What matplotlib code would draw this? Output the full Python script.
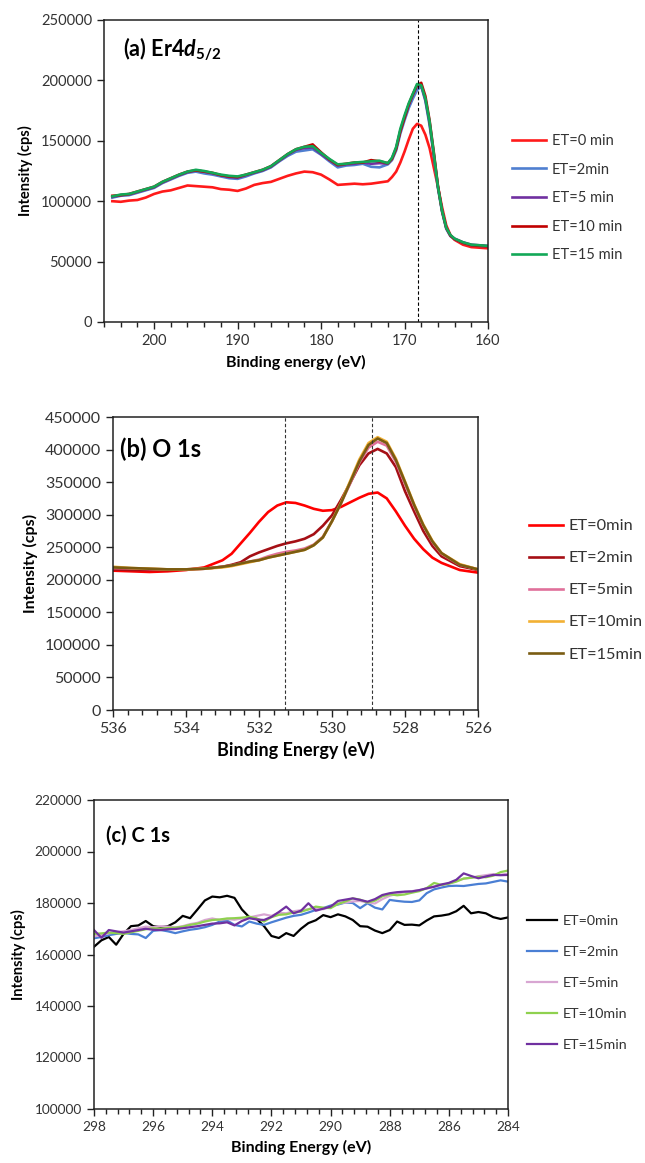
import matplotlib
matplotlib.use("Agg")
import matplotlib.pyplot as plt
from matplotlib.ticker import MultipleLocator

plt.rcParams["font.family"] = ["Lato", "DejaVu Sans"]
plt.rcParams["mathtext.fontset"] = "custom"
plt.rcParams["mathtext.rm"] = "Lato:bold"
plt.rcParams["mathtext.it"] = "Lato:bold:italic"
plt.rcParams["mathtext.bf"] = "Lato:bold"

# ---------------- (a) Er 4d5/2 ----------------
er_energy = [205, 204, 203, 202, 201, 200, 199, 198, 197, 196, 195, 194, 193, 192,
             191, 190, 189, 188, 187, 186, 185, 184, 183, 182, 181, 180, 179, 178,
             177, 176, 175, 174, 173, 172, 171.5, 171, 170.5, 170, 169.5, 169,
             168.5, 168, 167.5, 167, 166.5, 166, 165.5, 165, 164.5, 164, 163, 162,
             161, 160]
er_labels = ["ET=0 min", "ET=2min", "ET=5 min", "ET=10 min", "ET=15 min"]
er_colors = ["#FF1A1A", "#4F7FD0", "#7030A0", "#C00000", "#12A857"]
er_et0 = [100.0, 99.5, 100.5, 101, 103, 106, 108, 109, 111, 113, 112.5, 112, 111.5, 110,
          109.5, 108.5, 110.5, 113.5, 115, 116, 118.5, 121, 123, 124.5, 124, 122, 118, 113.5,
          114, 114.5, 114, 114.5, 115.5, 116.5, 120, 124.5, 132, 141, 151, 160,
          164, 162.5, 155, 144, 128, 112, 95, 80, 72, 68, 64, 62,
          61.5, 61]
er_et2 = [103, 104.5, 105, 107, 109, 111, 115, 118, 121, 123.5, 124.5, 123, 122, 120.5,
          119, 118.5, 120.5, 123, 125, 128, 133, 137.5, 141, 142, 143, 138.5, 133, 128,
          129.5, 130, 131, 128.5, 128, 130.5, 134, 142, 156, 167, 177, 185,
          192, 195, 183, 163, 138, 111, 91, 77, 71, 68.5, 65.5, 63.5,
          63, 62.5]
er_et5 = [103.5, 105, 105.5, 107.5, 109.5, 111.5, 115.5, 118.5, 121.5, 124, 125.5, 124.5, 123, 121.5,
          120, 119.5, 121.5, 123.5, 125.5, 128.5, 133.5, 138.5, 142.5, 144, 144.5, 139, 134, 129.5,
          130.5, 131, 132, 131, 131.5, 131, 135.5, 144, 158.5, 169.5, 179.5, 188,
          195.5, 196, 184, 165, 139, 112, 92, 78, 71.5, 69, 66, 64,
          63.5, 63]
er_et10 = [104.5, 105, 106, 108, 110, 112, 116, 119, 122, 124.5, 125.5, 124.5, 123.5, 121.5,
           120.5, 120, 122, 124, 126, 129, 134, 139, 143, 145, 147, 140.5, 134.5, 130,
           131, 132, 132, 134, 133, 131.5, 135, 143.5, 158, 169, 180, 188.5,
           196, 198, 187, 167, 141, 113, 92, 78, 71.5, 68.5, 65.5, 63.5,
           63, 62.5]
er_et15 = [104, 105.5, 106, 108, 110, 112, 116, 119, 122, 124.5, 126, 125, 123.5, 122,
           121, 120.5, 122, 124, 126, 129, 134, 139, 143, 145, 145.5, 140, 135, 130.5,
           131, 132, 132.5, 133, 133.5, 131.5, 136, 145, 160, 171, 181, 189,
           197, 196, 185, 166, 140, 112, 92, 78, 72, 69, 66, 64,
           63.5, 63]
er_series = [er_et0, er_et2, er_et5, er_et10, er_et15]
er_peak = 168.4

# ---------------- (b) O 1s ----------------
o_energy = [536, 535.5, 535, 534.5, 534, 533.5, 533, 532.75, 532.5, 532.25, 532, 531.75,
            531.5, 531.25, 531, 530.75, 530.5, 530.25, 530, 529.75, 529.5, 529.25, 529,
            528.75, 528.5, 528.25, 528, 527.75, 527.5, 527.25, 527, 526.5, 526]
o_labels = ["ET=0min", "ET=2min", "ET=5min", "ET=10min", "ET=15min"]
o_colors = ["#FF0000", "#A50F15", "#E0709A", "#F2B134", "#7A5C12"]
o_et0 = [214, 213, 212, 213, 215, 219, 230, 240, 256, 272, 289, 304,
         314, 319, 318, 314, 309, 306, 307, 312, 319, 326, 332,
         334, 325, 305, 283, 263, 247, 234, 226, 215, 211]
o_et2 = [216, 215, 215, 215, 216, 217, 220, 223, 227, 236, 242, 247,
         252, 256, 259, 263, 270, 283, 299, 323, 349, 376, 394,
         401, 394, 373, 336, 305, 275, 252, 236, 221, 215]
o_et5 = [218, 217.5, 216.5, 216, 216, 217, 220, 222, 225, 228, 231, 236,
         240, 243, 245, 248, 254, 266, 290, 318, 348, 380, 403,
         412, 406, 381, 347, 313, 283, 258, 240, 223, 216]
o_et10 = [220, 218, 217, 216, 216, 217, 219, 221, 224, 227, 230, 234,
          237, 240, 243, 246, 253, 265, 290, 319, 352, 385, 410,
          419, 412, 386, 351, 316, 285, 260, 241, 224, 216]
o_et15 = [219, 218, 217, 216, 216, 217, 220, 222, 225, 228, 230, 234,
          237, 240, 243, 246, 253, 265, 290, 318, 350, 382, 407,
          417, 410, 384, 350, 315, 284, 259, 241, 223, 216]
o_series = [o_et0, o_et2, o_et5, o_et10, o_et15]
o_peaks = [531.3, 528.9]

# ---------------- (c) C 1s ----------------
c_energy = [298.00, 297.75, 297.50, 297.25, 297.00, 296.75, 296.50, 296.25, 296.00, 295.75,
            295.50, 295.25, 295.00, 294.75, 294.50, 294.25, 294.00, 293.75, 293.50, 293.25,
            293.00, 292.75, 292.50, 292.25, 292.00, 291.75, 291.50, 291.25, 291.00, 290.75,
            290.50, 290.25, 290.00, 289.75, 289.50, 289.25, 289.00, 288.75, 288.50, 288.25,
            288.00, 287.75, 287.50, 287.25, 287.00, 286.75, 286.50, 286.25, 286.00, 285.75,
            285.50, 285.25, 285.00, 284.75, 284.50, 284.25, 284.00]
c_labels = ["ET=0min", "ET=2min", "ET=5min", "ET=10min", "ET=15min"]
c_colors = ["#000000", "#4A7FD4", "#D8A6D2", "#8FD14F", "#7030A0"]
c_et0 = [163.0, 165.5, 166.8, 163.8, 168.0, 171.0, 171.3, 173.0, 171.0, 170.6,
         171.0, 172.5, 175.0, 174.1, 177.5, 181.0, 182.5, 182.2, 182.8, 182.0,
         177.5, 174.5, 173.8, 171.0, 167.2, 166.4, 168.3, 167.2, 170.0, 172.2,
         173.3, 175.3, 174.5, 175.6, 174.8, 173.4, 171.0, 170.8, 169.3, 168.3,
         169.5, 172.8, 171.5, 171.6, 171.3, 173.2, 174.8, 175.1, 175.6, 176.8,
         178.9, 176.0, 176.5, 176.0, 174.5, 173.8, 174.4]
c_et2 = [166.3, 166.8, 167.5, 168.0, 168.4, 168.0, 167.8, 166.4, 169.2, 169.5,
         169.0, 168.3, 169.0, 169.6, 170.0, 170.6, 171.5, 172.8, 173.2, 171.5,
         170.9, 172.8, 172.0, 171.5, 172.5, 173.4, 174.3, 175.0, 175.4, 176.3,
         177.3, 178.0, 179.0, 179.4, 180.2, 180.0, 178.0, 179.9, 178.2, 177.5,
         181.2, 180.8, 180.5, 180.4, 181.0, 183.8, 185.3, 186.0, 186.6, 186.7,
         186.6, 187.0, 187.4, 187.6, 188.2, 188.8, 188.3]
c_et5 = [167.0, 167.6, 168.2, 168.6, 169.0, 169.5, 170.2, 170.8, 170.6, 171.0,
         170.8, 170.5, 171.0, 171.8, 172.3, 173.4, 174.0, 173.4, 173.8, 173.5,
         174.0, 174.4, 175.0, 175.6, 175.0, 176.2, 176.0, 176.8, 177.2, 177.6,
         178.0, 177.6, 178.5, 179.8, 180.2, 180.6, 180.8, 180.2, 179.8, 181.5,
         182.8, 183.6, 184.3, 184.6, 185.0, 185.6, 186.4, 187.0, 187.6, 188.6,
         189.4, 189.8, 190.4, 190.8, 191.2, 191.0, 191.4]
c_et10 = [168.0, 168.2, 168.5, 168.3, 168.0, 168.6, 169.2, 169.8, 170.2, 170.0,
          170.3, 170.4, 170.8, 171.5, 172.0, 172.8, 173.4, 173.6, 174.0, 174.1,
          174.3, 174.7, 174.0, 172.8, 174.5, 175.4, 175.6, 176.3, 176.6, 177.5,
          178.6, 178.2, 178.0, 179.6, 180.6, 181.8, 181.3, 180.2, 180.9, 182.6,
          183.4, 183.0, 183.3, 184.0, 184.6, 185.8, 187.8, 187.0, 187.5, 188.3,
          189.5, 189.8, 190.2, 190.0, 190.6, 192.0, 192.6]
c_et15 = [169.5, 166.5, 169.5, 169.0, 168.5, 169.0, 169.5, 170.0, 169.6, 169.5,
          169.8, 169.9, 170.2, 170.6, 171.0, 171.5, 172.0, 172.1, 172.5, 171.3,
          173.0, 174.1, 173.6, 173.4, 174.6, 176.5, 178.6, 176.0, 177.0, 179.9,
          177.0, 177.8, 178.6, 180.8, 181.3, 181.8, 181.2, 180.5, 181.5, 183.1,
          183.8, 184.2, 184.4, 184.5, 185.0, 185.7, 186.3, 187.2, 187.8, 189.0,
          191.5, 190.5, 189.6, 190.3, 190.9, 190.8, 190.9]
c_series = [c_et0, c_et2, c_et5, c_et10, c_et15]

W, H = 645, 1163
fig = plt.figure(figsize=(W / 100, H / 100), dpi=100)


def px_axes(left, top, right, bottom):
    return fig.add_axes([left / W, 1 - bottom / H, (right - left) / W, (bottom - top) / H])


AX_COLOR = "#222222"
TXT_COLOR = "#333333"


def style_axes(ax, xmaj, xmin_step, ymaj, tick_fs):
    for s in ax.spines.values():
        s.set_linewidth(1.1)
        s.set_color(AX_COLOR)
    ax.xaxis.set_major_locator(MultipleLocator(xmaj))
    ax.xaxis.set_minor_locator(MultipleLocator(xmin_step))
    ax.yaxis.set_major_locator(MultipleLocator(ymaj))
    ax.tick_params(axis="both", which="major", direction="out", length=5, width=1.0,
                   color=AX_COLOR, labelsize=tick_fs, labelcolor=TXT_COLOR)
    ax.tick_params(axis="x", which="minor", direction="out", length=3.5, width=1.0,
                   color=AX_COLOR)
    ax.tick_params(axis="y", which="minor", length=0)


def add_legend(handles, labels, x_px, y_px, fs, hlen, pad, spacing):
    return fig.legend(handles, labels, loc="upper left",
                      bbox_to_anchor=(x_px / W, 1 - y_px / H),
                      bbox_transform=fig.transFigure, frameon=False,
                      fontsize=fs, handlelength=hlen, handletextpad=pad,
                      labelspacing=spacing, borderpad=0, borderaxespad=0,
                      labelcolor=TXT_COLOR)


# ---- panel (a)
ax1 = px_axes(104, 20, 488, 322)
handles = []
for vals, col in zip(er_series, er_colors):
    (ln,) = ax1.plot(er_energy, [v * 1000 for v in vals], color=col, lw=1.9,
                     solid_joinstyle="round")
    handles.append(ln)
ax1.axvline(er_peak, color="black", lw=0.8, ls=(0, (3, 2)))
ax1.set_xlim(206, 160)
ax1.set_ylim(0, 250000)
style_axes(ax1, 10, 2, 50000, 10.5)
ax1.set_xlabel("Binding energy (eV)", fontsize=11.5, fontweight="bold", labelpad=5)
ax1.set_ylabel("Intensity (cps)", fontsize=10.5, fontweight="bold", labelpad=6)
ax1.text(0.05, 0.905, "(a) Er4$d_{5/2}$", transform=ax1.transAxes, fontsize=15.5,
         fontweight="bold", va="center", ha="left")
add_legend(handles, er_labels, 512, 134, 10.5, 2.3, 0.45, 1.0)

# ---- panel (b)
ax2 = px_axes(113, 417, 478, 710)
handles = []
for vals, col in zip(o_series, o_colors):
    (ln,) = ax2.plot(o_energy, [v * 1000 for v in vals], color=col, lw=1.9,
                     solid_joinstyle="round")
    handles.append(ln)
for p in o_peaks:
    ax2.axvline(p, color="#333333", lw=0.8, ls=(0, (3, 2)))
ax2.set_xlim(536, 526)
ax2.set_ylim(0, 450000)
style_axes(ax2, 2, 0.4, 50000, 11.5)
ax2.set_xlabel("Binding Energy (eV)", fontsize=13, fontweight="bold", labelpad=4)
ax2.set_ylabel("Intensity (cps)", fontsize=11.5, fontweight="bold", labelpad=5)
ax2.text(0.02, 0.89, "(b) O 1s", transform=ax2.transAxes, fontsize=17,
         fontweight="bold", va="center", ha="left")
add_legend(handles, o_labels, 529, 519, 11.8, 2.07, 0.37, 1.07)

# ---- panel (c)
ax3 = px_axes(94, 800, 508, 1109)
handles = []
for vals, col in zip(c_series, c_colors):
    (ln,) = ax3.plot(c_energy, [v * 1000 for v in vals], color=col, lw=1.6,
                     solid_joinstyle="round")
    handles.append(ln)
ax3.set_xlim(298, 284)
ax3.set_ylim(100000, 220000)
style_axes(ax3, 2, 0.4, 20000, 9.8)
ax3.set_xlabel("Binding Energy (eV)", fontsize=11.5, fontweight="bold", labelpad=5)
ax3.set_ylabel("Intensity (cps)", fontsize=10.5, fontweight="bold", labelpad=6)
ax3.text(0.03, 0.885, "(c) C 1s", transform=ax3.transAxes, fontsize=14.5,
         fontweight="bold", va="center", ha="left")
add_legend(handles, c_labels, 527, 915, 10.3, 2.1, 0.4, 1.33)

fig.savefig("out.png", dpi=100)
